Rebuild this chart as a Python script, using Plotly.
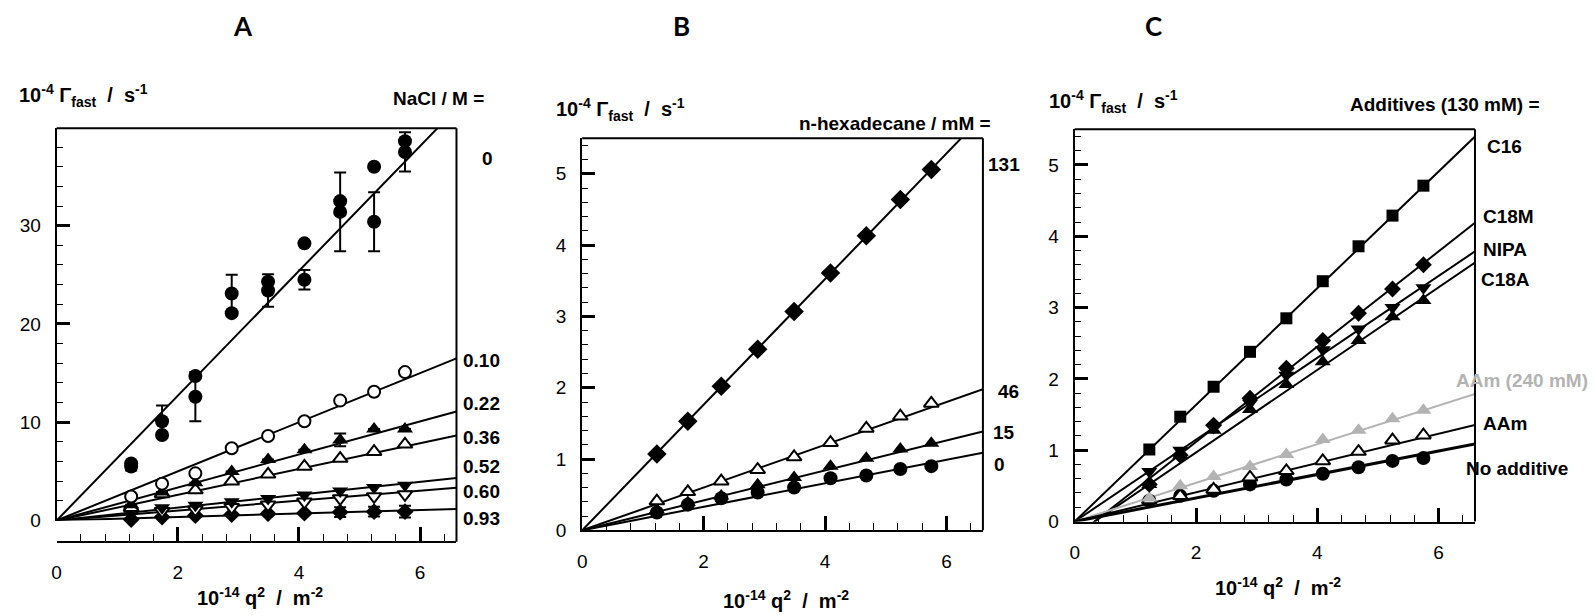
import plotly.graph_objects as go

W, H = 1594, 615

# ---------------- data ----------------
# scattering vector squared, 10^-14 q^2 / m^-2
q2 = [1.23, 1.74, 2.29, 2.89, 3.49, 4.09, 4.68, 5.24, 5.75]

# Panel A: NaCl series (10^-4 Gamma_fast / s^-1)
nacl0_x = [1.23, 1.74, 2.29, 2.89, 3.49, 4.09, 4.68, 5.24, 5.75]
nacl0_y = [5.5, 10.1, 12.6, 23.1, 23.4, 24.5, 31.4, 30.4, 37.5]
nacl0_err = [0.4, 1.6, 2.5, 1.9, 1.65, 1.0, 4.0, 3.0, 2.0]
nacl0_rep_x = [1.23, 1.74, 2.29, 2.89, 3.49, 4.09, 4.68, 5.24, 5.75]
nacl0_rep_y = [5.8, 8.7, 14.7, 21.1, 24.3, 28.2, 32.5, 36.0, 38.6]
nacl010 = [2.45, 3.75, 4.8, 7.35, 8.6, 10.1, 12.2, 13.1, 15.1]
nacl022 = [1.6, 2.9, 3.85, 5.0, 6.2, 7.2, 8.2, 9.3, 9.3]
nacl022_err = [0, 0, 0, 0, 0, 0, 0.65, 0, 0]
nacl036 = [1.3, 2.7, 3.1, 4.0, 4.7, 5.5, 6.3, 7.0, 7.75]
nacl052 = [0.9, 1.3, 1.55, 1.9, 2.25, 2.6, 3.0, 3.35, 3.6]
nacl060 = [0.75, 0.95, 1.1, 1.35, 1.6, 1.9, 2.25, 2.45, 2.65]
nacl093 = [0.1, 0.35, 0.5, 0.6, 0.7, 0.75, 0.85, 0.9, 0.9]
nacl093_err = [0, 0, 0, 0, 0, 0, 0.5, 0.5, 0.6]
nacl_slopes = {"0": 6.35, "0.10": 2.50, "0.22": 1.68, "0.36": 1.31,
               "0.52": 0.657, "0.60": 0.505, "0.93": 0.177}

# Panel B: n-hexadecane series
hex131 = [1.07, 1.53, 2.02, 2.54, 3.07, 3.61, 4.13, 4.64, 5.06]
hex46 = [0.41, 0.54, 0.69, 0.85, 1.03, 1.23, 1.43, 1.60, 1.78]
hex15 = [0.29, 0.39, 0.48, 0.64, 0.74, 0.90, 1.01, 1.14, 1.22]
hex0 = [0.25, 0.36, 0.45, 0.53, 0.60, 0.73, 0.77, 0.86, 0.90]
hex_slopes = {"131": 0.881, "46": 0.300, "15": 0.210, "0": 0.165}

# Panel C: additives (130 mM)
c16 = [1.01, 1.47, 1.89, 2.38, 2.85, 3.37, 3.86, 4.29, 4.71]
c18m = [0.52, 0.93, 1.35, 1.73, 2.15, 2.54, 2.92, 3.26, 3.60]
nipa = [0.70, 1.00, 1.32, 1.66, 2.05, 2.41, 2.70, 3.00, 3.28]
c18a = [0.52, 0.93, 1.28, 1.57, 1.92, 2.24, 2.54, 2.87, 3.10]
aam240 = [0.33, 0.50, 0.63, 0.77, 0.94, 1.15, 1.28, 1.44, 1.56]
aam = [0.30, 0.36, 0.45, 0.62, 0.71, 0.85, 0.98, 1.14, 1.21]
noadd = [0.29, 0.36, 0.43, 0.52, 0.59, 0.67, 0.76, 0.85, 0.89]
# linear fits: (slope, intercept)
add_fits = {"C16": (0.818, 0.0), "C18M": (0.668, -0.22), "NIPA": (0.574, 0.0),
            "C18A": (0.579, -0.19), "AAm (240 mM)": (0.271, 0.0),
            "AAm": (0.205, 0.0), "No additive": (0.165, 0.0)}

X_MAX = 6.6
fit_x = [0.0, X_MAX]

GREY = "#b3b3b3"
FONT = "Liberation Sans, Arial, sans-serif"

fig = go.Figure()


def line(xa, ya, slope, icpt=0.0, color="black", width=2):
    fig.add_trace(go.Scatter(x=fit_x, y=[slope * v + icpt for v in fit_x],
                             mode="lines", line=dict(color=color, width=width),
                             xaxis=xa, yaxis=ya, showlegend=False, hoverinfo="skip"))


def pts(xa, ya, xs, ys, symbol, size, filled=True, color="black", err=None):
    mk = dict(symbol=symbol, size=size,
              color=color if filled else "white",
              line=dict(color=color, width=2 if not filled else 0))
    tr = go.Scatter(x=xs, y=ys, mode="markers", marker=mk, cliponaxis=False,
                    xaxis=xa, yaxis=ya, showlegend=False)
    if err is not None:
        tr.error_y = dict(type="data", array=err, color=color, thickness=2, width=6)
    fig.add_trace(tr)


# ---- Panel A ----
for k in ["0", "0.10", "0.22", "0.36", "0.52", "0.60", "0.93"]:
    line("x", "y", nacl_slopes[k])
pts("x", "y", nacl0_x, nacl0_y, "circle", 14, err=nacl0_err)
pts("x", "y", nacl0_rep_x, nacl0_rep_y, "circle", 14)
pts("x", "y", q2, nacl093, "diamond", 13, err=nacl093_err)
pts("x", "y", q2, nacl060, "triangle-down", 13, filled=False)
pts("x", "y", q2, nacl052, "triangle-down", 14)
pts("x", "y", q2, nacl036, "triangle-up", 13, filled=False)
pts("x", "y", q2, nacl022, "triangle-up", 14, err=nacl022_err)
pts("x", "y", q2, nacl010, "circle", 12, filled=False)

# ---- Panel B ----
for k in ["131", "46", "15", "0"]:
    line("x2", "y2", hex_slopes[k])
pts("x2", "y2", q2, hex0, "circle", 14)
pts("x2", "y2", q2, hex15, "triangle-up", 14)
pts("x2", "y2", q2, hex46, "triangle-up", 13, filled=False)
pts("x2", "y2", q2, hex131, "diamond", 15)

# ---- Panel C ----
for k, (s, b) in add_fits.items():
    if k == "AAm (240 mM)":
        line("x3", "y3", s, b, color=GREY)
    elif k == "No additive":
        line("x3", "y3", s, b, width=3)
    else:
        line("x3", "y3", s, b)
pts("x3", "y3", q2, noadd, "circle", 14)
pts("x3", "y3", q2, aam, "triangle-up", 13, filled=False)
pts("x3", "y3", q2, aam240, "triangle-up", 14, color=GREY)
pts("x3", "y3", q2, c18a, "triangle-up", 14)
pts("x3", "y3", q2, nipa, "triangle-down", 14)
pts("x3", "y3", q2, c18m, "diamond", 13)
pts("x3", "y3", q2, c16, "square", 12)


# ---------------- axes ----------------
def px(v):
    return v / W


def py(v):
    return 1 - v / H


tickfont = dict(family=FONT, size=19, color="black")


def xax(left, right, anchor, position=None):
    d = dict(domain=[px(left), px(right)], range=[0, X_MAX], tickmode="linear",
             tick0=0, dtick=2, ticks="inside", ticklen=14, tickwidth=2.5,
             tickcolor="black", showline=True, linecolor="black", linewidth=2,
             showgrid=False, zeroline=False, tickfont=tickfont,
             ticklabelstandoff=13,
             minor=dict(ticks="inside", ticklen=7, tickwidth=1.2,
                        tickcolor="black", dtick=0.4, tick0=0, showgrid=False))
    if position is None:
        d["anchor"] = anchor
    else:
        d["anchor"] = "free"
        d["position"] = position
    return d


def yax(bottom, top, ymax, dtick, mdtick, anchor):
    return dict(domain=[py(bottom), py(top)], range=[0, ymax], tickmode="linear",
                tick0=0, dtick=dtick, ticks="inside", ticklen=13, tickwidth=2.5,
                tickcolor="black", showline=True, linecolor="black", linewidth=2,
                showgrid=False, zeroline=False, tickfont=tickfont, anchor=anchor,
                ticklabelstandoff=10,
                minor=dict(ticks="inside", ticklen=6, tickwidth=1.2,
                           tickcolor="black", dtick=mdtick, tick0=0, showgrid=False))


A = dict(l=51.8, r=452.9, t=130.7, b0=530.0, xb=551.7)
B = dict(l=579.0, r=981.0, t=140.7, b0=540.0)
C = dict(l=1073.1, r=1474.6, t=131.7, b0=531.0)

fig.update_layout(
    xaxis=xax(A["l"], A["r"], None, position=py(A["xb"])),
    yaxis=yax(A["b0"], A["t"], 39.9, 10, 2, "x"),
    xaxis2=xax(B["l"], B["r"], "y2"),
    yaxis2=yax(B["b0"], B["t"], 5.5, 1, 0.2, "x2"),
    xaxis3=xax(C["l"], C["r"], "y3"),
    yaxis3=yax(C["b0"], C["t"], 5.5, 1, 0.2, "x3"),
)

# frame: top and right borders
shapes = []
for P, bottom in [(A, A["xb"]), (B, B["b0"]), (C, C["b0"])]:
    shapes.append(dict(type="line", xref="paper", yref="paper",
                       x0=px(P["l"]), x1=px(P["r"]), y0=py(P["t"]), y1=py(P["t"]),
                       line=dict(color="black", width=2)))
    shapes.append(dict(type="line", xref="paper", yref="paper",
                       x0=px(P["r"]), x1=px(P["r"]), y0=py(P["t"]), y1=py(bottom),
                       line=dict(color="black", width=2)))

# ---------------- text ----------------
ann = []


def text(x, y, s, size=19, anchor="left", color="black", family=FONT, bold=True):
    ann.append(dict(x=px(x), y=py(y), xref="paper", yref="paper", showarrow=False,
                    text=("<b>%s</b>" % s) if bold else s, xanchor=anchor,
                    yanchor="middle",
                    font=dict(family=family, size=size, color=color)))


ytitle = "10<sup>-4</sup> Γ<sub>fast</sub>&nbsp;&nbsp;/&nbsp;&nbsp;s<sup>-1</sup>"
xtitle = "10<sup>-14</sup> q<sup>2</sup>&nbsp;&nbsp;/&nbsp;&nbsp;m<sup>-2</sup>"

# panel letters
for lx, lab in [(238.5, "A"), (679, "B"), (1152, "C")]:
    text(lx, 26, lab, size=26, anchor="center", family="Lato, Open Sans, sans-serif")

# axis titles
text(12, 97, ytitle, size=20)
text(551, 112, ytitle, size=20)
text(1045, 103, ytitle, size=20)
text(191, 607, xtitle, size=20)
text(718, 610, xtitle, size=20)
text(1212, 597, xtitle, size=20)

# Panel A labels
text(387, 100, "NaCl / M =")
text(476, 161, "0")
for lab, yy in [("0.10", 367), ("0.22", 411), ("0.36", 445), ("0.52", 475),
                ("0.60", 500), ("0.93", 528)]:
    text(457, yy, lab)

# Panel B labels
text(794, 126, "n-hexadecane / mM =")
text(984, 168, "131")
text(994, 399, "46")
text(989, 440, "15")
text(990, 473, "0")

# Panel C labels
text(1347, 106, "Additives (130 mM) =")
text(1485, 149, "C16")
text(1481, 220, "C18M")
text(1481, 254, "NIPA")
text(1479, 285, "C18A")
text(1454, 387, "AAm (240 mM)", color=GREY)
text(1481, 431, "AAm")
text(1464, 477, "No additive")

fig.update_layout(width=W, height=H, margin=dict(l=0, r=0, t=0, b=0),
                  paper_bgcolor="white", plot_bgcolor="white",
                  shapes=shapes, annotations=ann, showlegend=False)

fig.write_html("out.html")
